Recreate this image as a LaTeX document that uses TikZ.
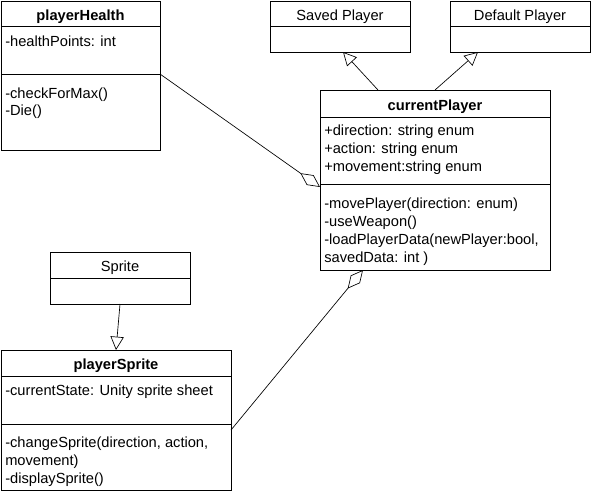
\documentclass[tikz,border=0pt]{standalone}
\usepackage{fontspec}
\setmainfont{Liberation Sans}
\usetikzlibrary{arrows.meta,fit}
\begin{document}
\begin{tikzpicture}[x=0.75pt,y=-0.75pt,
  box/.style={draw=black,line width=0.75pt,inner sep=0pt,fit={#1}},
  divider/.style={draw=black,line width=0.75pt},
  title/.style={font=\fontsize{11}{13}\selectfont\bfseries,inner sep=0pt,anchor=base},
  cname/.style={font=\fontsize{11}{13}\selectfont,inner sep=0pt,anchor=base},
  member/.style={font=\fontsize{11}{13}\selectfont,inner sep=0pt,anchor=base west},
  inherit/.style={-{Triangle[open,length=10pt,width=10pt]},line width=0.5pt},
  aggr/.style={{Diamond[open,length=18pt,width=9pt]}-,line width=0.5pt}]
\useasboundingbox (0,0) rectangle (591,494);

% playerHealth
\node[box={(1,1) (160,150)}] (ph) {};
\draw[divider] (1,26) -- (160,26);
\draw[divider] (1,74) -- (160,74);
\node[title] (phT) at (80.5,20.5) {playerHealth};
\node[member] (ph1) at (5,46) {-healthPoints: int};
\node[member] (ph2) at (5,98) {-checkForMax()};
\node[member] (ph3) at (5,115) {-Die()};

% Saved Player
\node[box={(270,1) (410,52)}] (sp) {};
\draw[divider] (270,26) -- (410,26);
\node[cname] (spT) at (340,20.5) {Saved Player};

% Default Player
\node[box={(450,1) (590,52)}] (dp) {};
\draw[divider] (450,26) -- (590,26);
\node[cname] (dpT) at (520,20.5) {Default Player};

% currentPlayer
\node[box={(320,90) (550,270)}] (cp) {};
\draw[divider] (320,117) -- (550,117);
\draw[divider] (320,184) -- (550,184);
\node[title] (cpT) at (435,110.5) {currentPlayer};
\node[member] (cp1) at (324,135) {+direction: string enum};
\node[member] (cp2) at (324,153) {+action: string enum};
\node[member] (cp3) at (324,171) {+movement:string enum};
\node[member] (cp4) at (324,208) {-movePlayer(direction: enum)};
\node[member] (cp5) at (324,226) {-useWeapon()};
\node[member] (cp6) at (324,244) {-loadPlayerData(newPlayer:bool,};
\node[member] (cp7) at (324,262) {savedData: int )};

% Sprite
\node[box={(50,252) (190,304)}] (sr) {};
\draw[divider] (50,278) -- (190,278);
\node[cname] (srT) at (120,271.5) {Sprite};

% playerSprite
\node[box={(1,350) (231,490)}] (ps) {};
\draw[divider] (1,376) -- (231,376);
\draw[divider] (1,424) -- (231,424);
\node[title] (psT) at (116,369.5) {playerSprite};
\node[member] (ps1) at (5,395) {-currentState: Unity sprite sheet};
\node[member] (ps2) at (5,447) {-changeSprite(direction, action,};
\node[member] (ps3) at (5,465) {movement)};
\node[member] (ps4) at (5,483) {-displaySprite()};

% connector end points
\coordinate (srB) at (120,304);
\coordinate (psT2) at (116,350);
\coordinate (cpTa) at (378,90);
\coordinate (spB) at (343,52);
\coordinate (cpTb) at (435,90);
\coordinate (dpB) at (478,52);
\coordinate (phR) at (160,74);
\coordinate (cpL) at (320,187);
\coordinate (psR) at (231,430);
\coordinate (cpB) at (363,270);

% connectors
\draw[inherit] (srB) -- (psT2);
\draw[inherit] (cpTa) -- (spB);
\draw[inherit] (cpTb) -- (dpB);
\draw[aggr] (cpL) -- (phR);
\draw[aggr] (cpB) -- (psR);
\end{tikzpicture}
\end{document}
